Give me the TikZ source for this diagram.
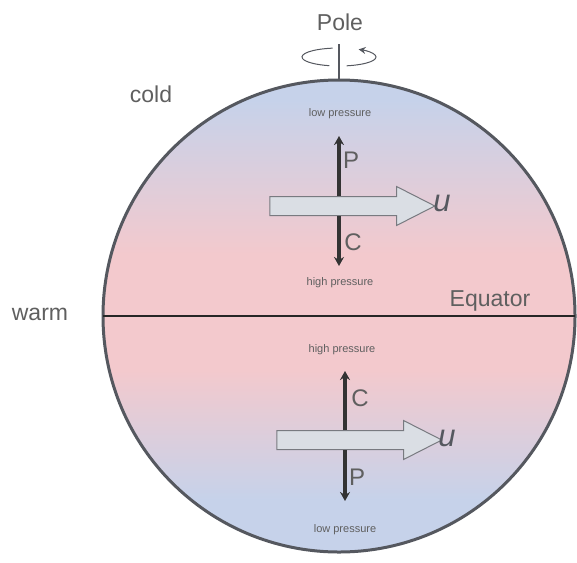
\documentclass[tikz,border=0pt]{standalone}
\usepackage{fontspec}
\setmainfont{Liberation Sans}
\usetikzlibrary{arrows.meta, shapes.arrows}

\definecolor{coldblue}{RGB}{198,210,234}
\definecolor{warmpink}{RGB}{243,201,205}
\definecolor{rimgray}{RGB}{85,88,95}
\definecolor{labelgray}{RGB}{95,95,95}
\definecolor{windfill}{RGB}{218,222,228}
\definecolor{winddraw}{RGB}{120,122,128}
% blue at the poles, pink round the equator
\pgfdeclareverticalshading{globeshade}{100bp}{color(0bp)=(coldblue); color(30.5bp)=(coldblue);
  color(44.3bp)=(warmpink); color(56.5bp)=(warmpink); color(72.9bp)=(coldblue); color(100bp)=(coldblue)}

\tikzset{
  biglabel/.style={font=\fontsize{23}{26}\selectfont, text=labelgray},
  smalllabel/.style={font=\fontsize{11}{13}\selectfont, text=labelgray},
  ulabel/.style={font=\fontsize{31}{34}\selectfont\itshape, text=rimgray},
  pclabel/.style={font=\fontsize{24}{27}\selectfont, text=labelgray},
  windarrow/.style={single arrow, draw=winddraw, fill=windfill, line width=1pt,
    inner xsep=0pt, inner ysep=9pt, single arrow head extend=10pt,
    single arrow tip angle=54, minimum height=165pt},
  pcarrow/.style={line width=3.2pt, draw=black!80, -{Stealth[length=9pt,width=10pt]}}
}

\begin{document}
\begin{tikzpicture}[x=1pt, y=-1pt]
  \useasboundingbox (0,0) rectangle (577,562);
  % the globe
  \node[circle, minimum size=472pt, inner sep=0pt, outer sep=0pt, shading=globeshade,
    draw=rimgray, line width=3pt] (globe) at (339,316) {};
  \draw[line width=1.4pt, black!85] (globe.west) -- (globe.east);
  % pole and rotation
  \coordinate (poletop) at (339,44);
  \draw[line width=1.2pt, rimgray] (globe.north) -- (poletop);
  \draw[line width=1pt, rimgray] (339,57) ++(100:37pt and 9pt) arc[start angle=100, end angle=255, x radius=37pt, y radius=9pt];
  \draw[line width=1pt, rimgray, -{Stealth[length=7pt,width=7pt]}] (339,57) ++(-78:37pt and 9pt)
    arc[start angle=-78, end angle=58, x radius=37pt, y radius=9pt];
  \node[biglabel] (pole) at (340,22) {Pole};
  \node[biglabel] (cold) at (151,94) {cold};
  \node[biglabel] (warm) at (40,314) {warm};
  \node[biglabel] (equator) at (490,301) {Equator};

  % northern hemisphere
  \node[smalllabel] (lowN) at (340,114) {low pressure};
  \node[smalllabel] (highN) at (340,283) {high pressure};
  \coordinate (ptipN) at (339,136);
  \coordinate (ctipN) at (339,266);
  \node[windarrow] (uN) at (343,206) {};
  \draw[pcarrow] (uN.north -| ptipN) -- (ptipN);
  \draw[pcarrow] (uN.south -| ctipN) -- (ctipN);
  \node[pclabel] (pN) at (351,160) {P};
  \node[pclabel] (cN) at (353,242) {C};
  \node[ulabel] (velN) at (442,203) {u};

  % southern hemisphere
  \node[smalllabel] (highS) at (342,350) {high pressure};
  \node[smalllabel] (lowS) at (345,530) {low pressure};
  \coordinate (ctipS) at (345,371);
  \coordinate (ptipS) at (345,501);
  \node[windarrow] (uS) at (350,440) {};
  \draw[pcarrow] (uS.north -| ctipS) -- (ctipS);
  \draw[pcarrow] (uS.south -| ptipS) -- (ptipS);
  \node[pclabel] (cS) at (360,398) {C};
  \node[pclabel] (pS) at (357,477) {P};
  \node[ulabel] (velS) at (447,438) {u};
\end{tikzpicture}
\end{document}
